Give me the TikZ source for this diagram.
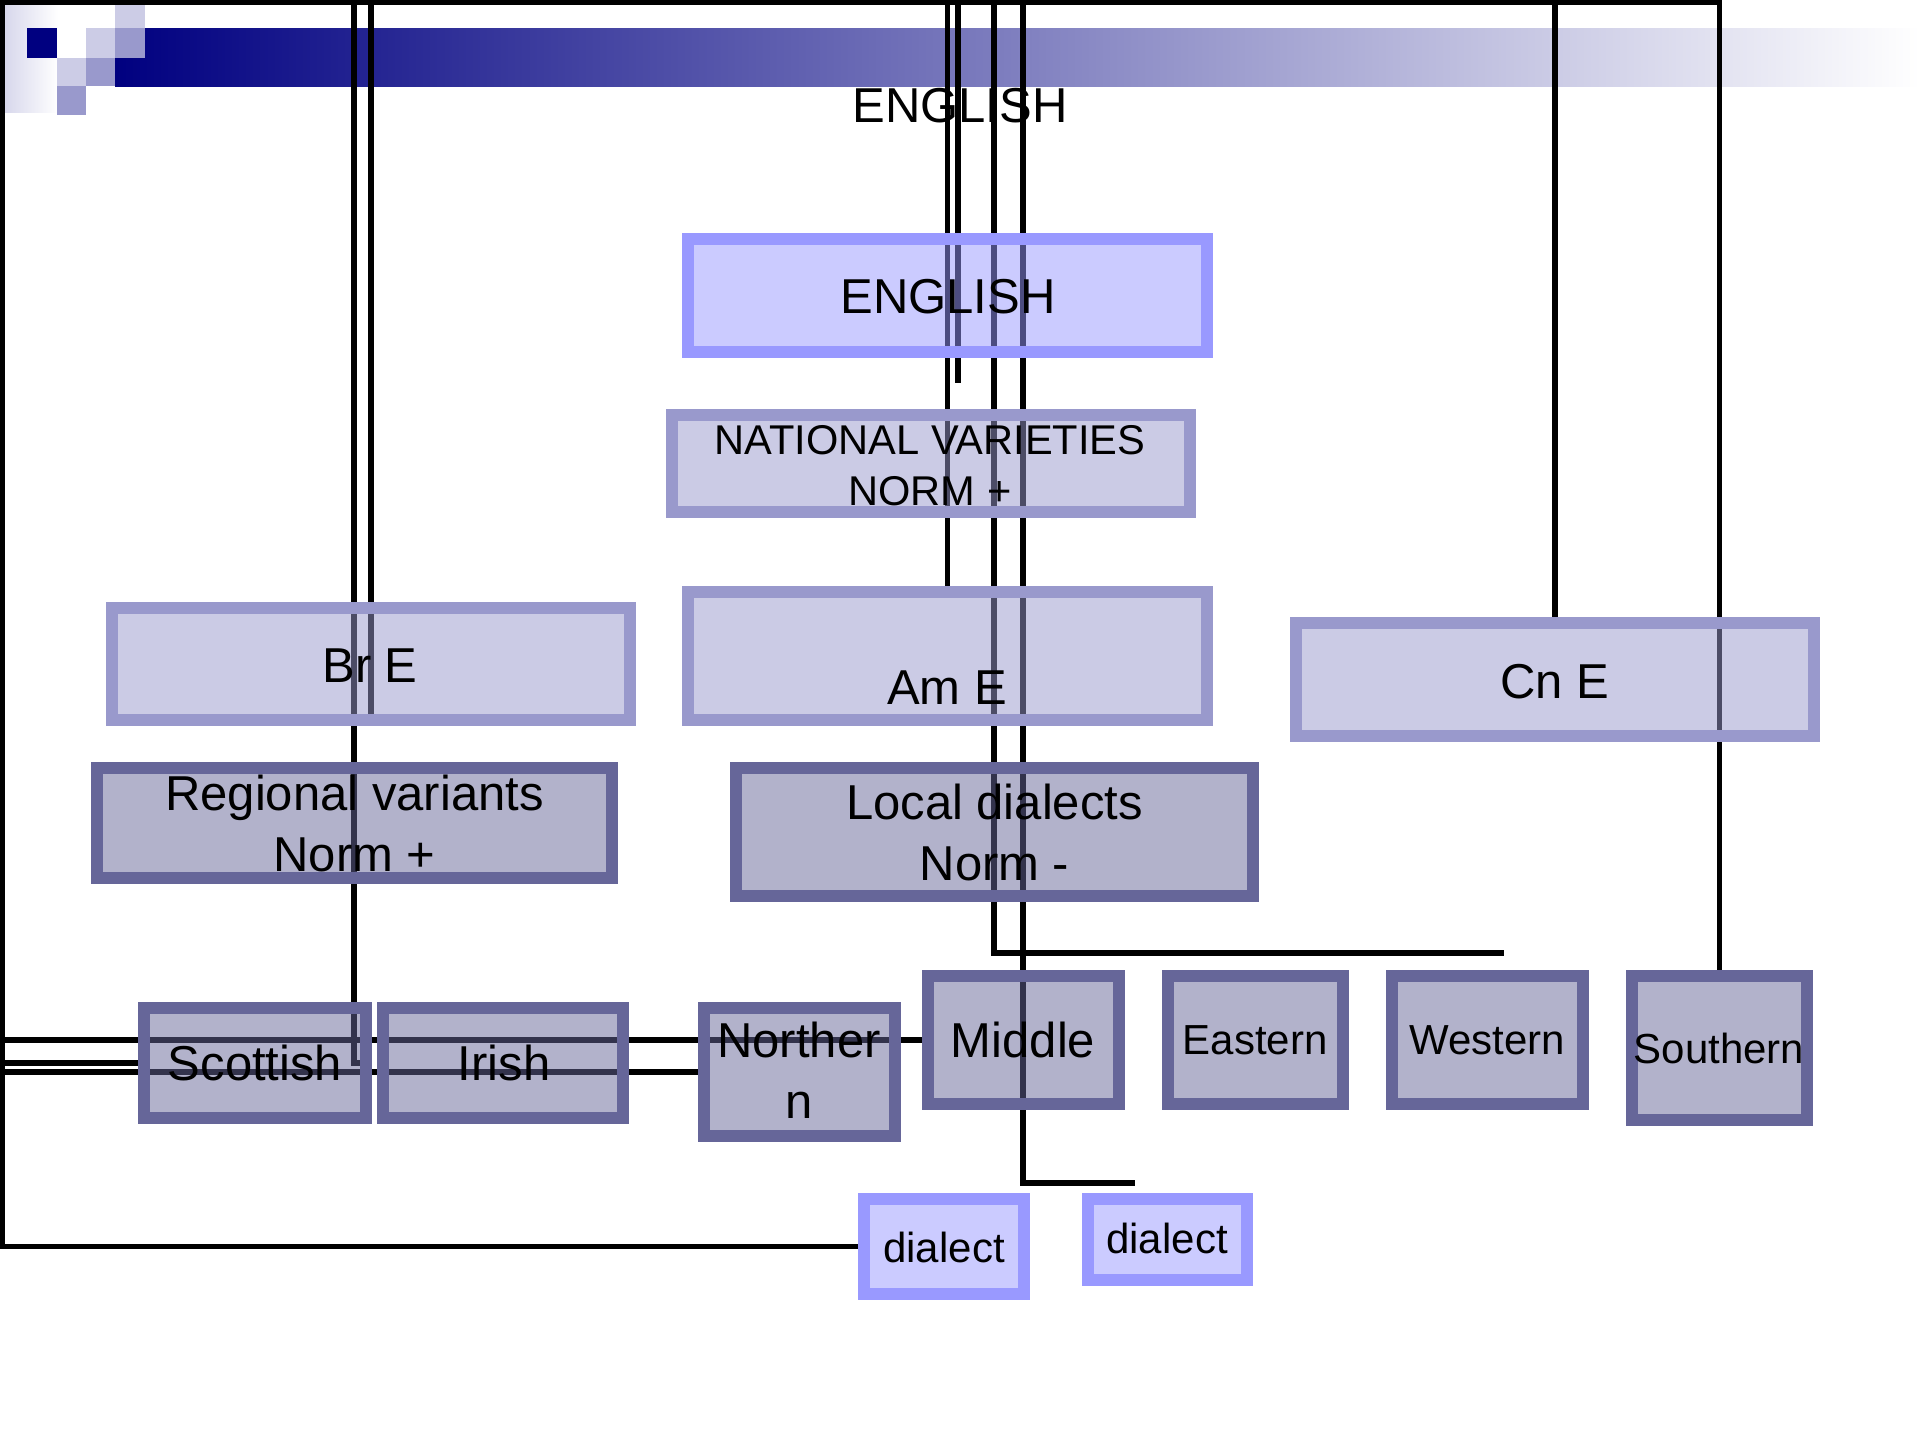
\documentclass[tikz,border=0pt]{standalone}
\usepackage{fontspec}
\setmainfont{Liberation Sans}
\usetikzlibrary{calc}
\definecolor{navybar}{HTML}{000080}
\definecolor{sqlight}{HTML}{CCCCE6}
\definecolor{sqmid}{HTML}{9999CC}
\definecolor{lightbd}{HTML}{9999FF}
\definecolor{midbd}{HTML}{9999CC}
\definecolor{darkbd}{HTML}{666699}
\definecolor{leftgrad}{HTML}{D4D4EA}
\pgfdeclarelayer{bglayer}
\pgfdeclarelayer{connlayer}
\pgfsetlayers{bglayer,connlayer,main}
\tikzset{
  boxbase/.style={rectangle, line width=6pt, inner sep=0pt, fill opacity=0.5, draw opacity=1},
  lightbox/.style={boxbase, draw=lightbd, fill=lightbd},
  midbox/.style={boxbase, draw=midbd, fill=midbd},
  darkbox/.style={boxbase, draw=darkbd, fill=darkbd},
  sz/.style 2 args={minimum width={#1*0.5pt}, minimum height={#2*0.5pt}},
  conn/.style={line width=2.6pt, black},
  bigtxt/.style={anchor=base, inner sep=0pt, font=\fontsize{24.5pt}{29pt}\selectfont},
  smalltxt/.style={anchor=base, inner sep=0pt, font=\fontsize{21pt}{25pt}\selectfont},
  nattxt/.style={anchor=base, inner sep=0pt, font=\fontsize{20.8pt}{25pt}\selectfont},
}
\begin{document}
\begin{tikzpicture}[x=0.5pt,y=-0.5pt]
\useasboundingbox (0,0) rectangle (1920,1440);

% ---------- background and header decoration ----------
\begin{pgfonlayer}{bglayer}
\fill[white] (0,0) rectangle (1920,1440);
\shade[left color=leftgrad, right color=white] (0,0) rectangle (58,112);
\shade[left color=navybar, right color=white] (115,28) rectangle (1920,86);
\fill[sqlight] (115,0) rectangle (145,28);
\fill[navybar] (27,28) rectangle (57,58);
\fill[sqlight] (86,28) rectangle (115,58);
\fill[sqmid] (115,28) rectangle (145,58);
\fill[sqlight] (57,58) rectangle (86,86);
\fill[sqmid] (86,58) rectangle (115,86);
\fill[sqmid] (57,86) rectangle (86,115);
\end{pgfonlayer}

% ---------- boxes ----------
\node[lightbox, sz={519}{113}] (english) at (947.5,295.5) {};
\node[midbox, sz={518}{97}] (natl) at (931,463.5) {};
\node[midbox, sz={518}{112}] (bre) at (371,664) {};
\node[midbox, sz={519}{128}] (ame) at (947.5,656) {};
\node[midbox, sz={518}{113}] (cne) at (1555,679.5) {};
\node[darkbox, sz={515}{110}] (regional) at (354.5,823) {};
\node[darkbox, sz={517}{128}] (local) at (994.5,832) {};
\node[darkbox, sz={222}{110}] (scot) at (255,1063) {};
\node[darkbox, sz={240}{110}] (irish) at (503,1063) {};
\node[darkbox, sz={191}{128}] (north) at (799.5,1072) {};
\node[darkbox, sz={191}{128}] (middle) at (1023.5,1040) {};
\node[darkbox, sz={175}{128}] (east) at (1255.5,1040) {};
\node[darkbox, sz={191}{128}] (west) at (1487.5,1040) {};
\node[darkbox, sz={175}{144}] (south) at (1719.5,1048) {};
\node[lightbox, sz={160}{95}] (d1) at (944,1246.5) {};
\node[lightbox, sz={159}{81}] (d2) at (1167.5,1239.5) {};

% ---------- connectors ----------
\begin{pgfonlayer}{connlayer}
\coordinate (tl) at (2,2);
\coordinate (s4) at (958,2);
\coordinate (e4) at (958,383);
\coordinate (s5) at (994,2);
\coordinate (e5) at (1504,953);
\coordinate (s6) at (1023,2);
\coordinate (e6) at (1135,1183);
\coordinate (s8) at (354,2);
\draw[conn] (south.north) -- (south.north |- tl) -- (tl) -- (tl |- d1.west) -- (d1.west);
\draw[conn] (cne.north) -- (cne.north |- tl);
\draw[conn] (ame.north) -- (ame.north |- tl);
\draw[conn] (s4) -- (e4);
\draw[conn] (s5) |- (e5);
\draw[conn] (s6) |- (e6);
\draw[conn] (bre.south |- tl) -- (bre.south);
\draw[conn] (s8) |- (scot.east);
\draw[conn] (tl |- middle.west) -- (middle.west);
\draw[conn] (tl |- scot.west) -- (scot.west);
\draw[conn] (tl |- north.west) -- (north.west);
\end{pgfonlayer}

% ---------- texts ----------
\node[bigtxt] (ttitle) at (960,122) {ENGLISH};
\node[bigtxt] (tenglish) at (948,313) {ENGLISH};
\node[nattxt] (tnat1) at (930,454) {NATIONAL VARIETIES};
\node[nattxt] (tnat2) at (930,505) {NORM +};
\node[bigtxt] (tbre) at (370,682) {Br E};
\node[bigtxt] (tame) at (947,704) {Am E};
\node[bigtxt] (tcne) at (1555,698) {Cn E};
\node[bigtxt] (treg1) at (354.5,810) {Regional variants};
\node[bigtxt] (treg2) at (354.5,871) {Norm +};
\node[bigtxt] (tloc1) at (994.5,819) {Local dialects};
\node[bigtxt] (tloc2) at (994.5,880) {Norm -};
\node[bigtxt] (tscot) at (255,1080) {Scottish};
\node[bigtxt] (tirish) at (504,1080) {Irish};
\node[bigtxt] (tnorth1) at (799,1057) {Norther};
\node[bigtxt] (tnorth2) at (799,1118) {n};
\node[bigtxt] (tmiddle) at (1023,1057) {Middle};
\node[smalltxt] (teast) at (1255,1054) {Eastern};
\node[smalltxt] (twest) at (1487,1054) {Western};
\node[smalltxt] (tsouth) at (1719,1063) {Southern};
\node[smalltxt] (td1) at (944,1262) {dialect};
\node[smalltxt] (td2) at (1167,1253) {dialect};
\end{tikzpicture}
\end{document}
